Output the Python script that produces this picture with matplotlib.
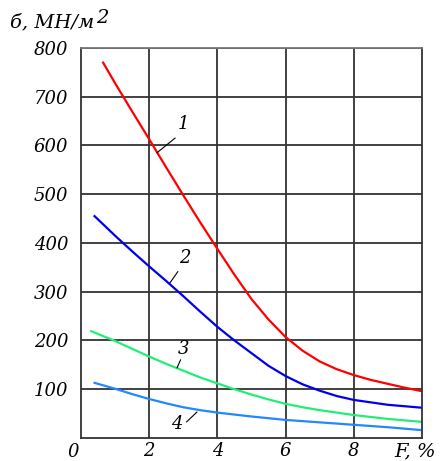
import matplotlib
matplotlib.use('Agg')
import matplotlib.pyplot as plt

# curva 1 (roja)
x1 = [0.65, 1.0, 1.5, 2.0, 2.5, 3.0, 3.5, 4.0, 4.5, 5.0, 5.5, 6.0, 6.5, 7.0, 7.5, 8.0, 8.5, 9.0, 9.5, 10.0]
y1 = [770, 728, 670, 613, 555, 498, 442, 388, 335, 285, 243, 207, 179, 157, 141, 129, 119, 111, 103, 96]
# curva 2 (azul)
x2 = [0.4, 1.0, 1.5, 2.0, 2.5, 3.0, 3.5, 4.0, 4.5, 5.0, 5.5, 6.0, 6.5, 7.0, 7.5, 8.0, 8.5, 9.0, 9.5, 10.0]
y2 = [455, 415, 383, 352, 322, 291, 259, 228, 200, 174, 148, 127, 110, 97, 86, 78, 73, 68, 65, 62]
# curva 3 (verde)
x3 = [0.3, 1.0, 1.5, 2.0, 2.5, 3.0, 3.5, 4.0, 4.5, 5.0, 5.5, 6.0, 6.5, 7.0, 7.5, 8.0, 8.5, 9.0, 9.5, 10.0]
y3 = [219, 199, 183, 167, 152, 138, 124, 112, 100, 89, 79, 70, 63, 57, 52, 47, 43, 39, 36, 33]
# curva 4 (celeste)
x4 = [0.4, 1.0, 1.5, 2.0, 2.5, 3.0, 3.5, 4.0, 5.0, 6.0, 7.0, 8.0, 9.0, 10.0]
y4 = [113, 101, 90, 80, 71, 63, 57, 52, 44, 37, 32, 27, 22, 16]

yticks = [100, 200, 300, 400, 500, 600, 700, 800]
xticks = [2, 4, 6, 8]

font = dict(family='DejaVu Serif', style='italic')
fs = 13

fig = plt.figure(figsize=(4.47, 4.61), dpi=100)
ax = fig.add_axes([0.181, 0.050, 0.763, 0.846])

ax.plot(x1, y1, color='#ff0000', lw=1.6)
ax.plot(x2, y2, color='#0000ee', lw=1.6)
ax.plot(x3, y3, color='#22ee77', lw=1.6)
ax.plot(x4, y4, color='#2288ff', lw=1.6)

ax.set_xlim(0, 10)
ax.set_ylim(0, 800)
ax.set_xticks(xticks)
ax.set_yticks(yticks)
ax.set_xticklabels([str(v) for v in xticks], fontsize=fs, **font)
ax.set_yticklabels([str(v) for v in yticks], fontsize=fs, **font)
ax.tick_params(length=0)
ax.tick_params(axis='x', pad=3)
ax.tick_params(axis='y', pad=9)
ax.grid(True, color='#333333', lw=1.3)
for s in ax.spines.values():
    s.set_color('#333333')
    s.set_linewidth(1.3)
ax.spines['top'].set_color('#777777')

# etiquetas de ejes
ax.text(-0.05, -10, '0', fontsize=fs, ha='right', va='top', **font)
ax.text(9.8, -10, 'F, %', fontsize=fs + 1, ha='center', va='top', **font)
lab = fig.text(0.022, 0.941, 'б, МН/м', fontsize=fs + 1, ha='left', va='baseline', **font)
fig.canvas.draw()
bb = lab.get_window_extent().transformed(fig.transFigure.inverted())
fig.text(bb.x1 + 0.004, 0.951, '2', fontsize=fs + 1, ha='left', va='baseline', **font)

# numeros de curva con lineas guia
for txt, tx, ty, lx, ly in [('1', 3.0, 625, (2.23, 2.76), (585, 615)),
                            ('2', 3.05, 350, (2.61, 2.84), (318, 341)),
                            ('3', 3.0, 165, (2.82, 2.92), (144, 160)),
                            ('4', 2.8, 10, (3.1, 3.4), (33, 53))]:
    ax.plot(lx, ly, color='black', lw=0.8)
    ax.text(tx, ty, txt, fontsize=fs, ha='center', va='bottom', **font)

plt.savefig('out.png', dpi=100)
plt.close()
